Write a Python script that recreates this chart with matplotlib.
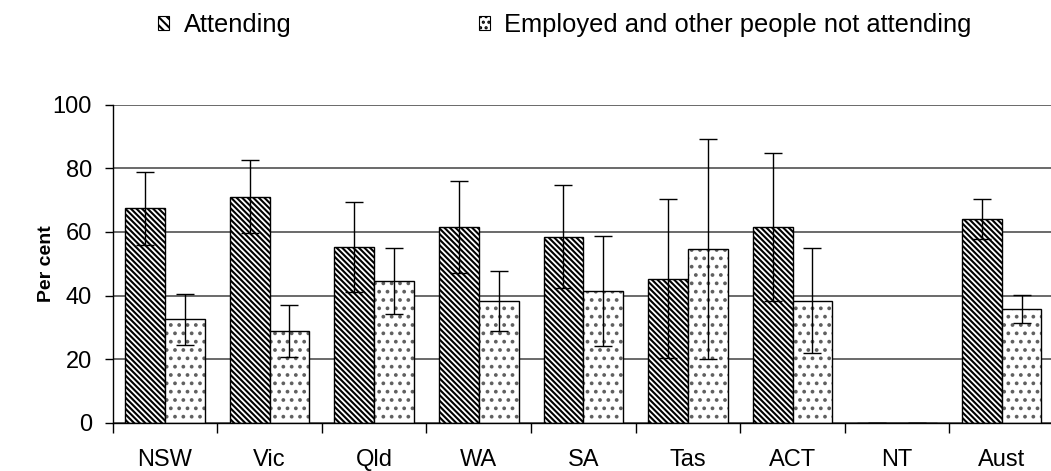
"""Attendance share by state, with error bars."""
import matplotlib.pyplot as plt
from matplotlib.patches import Patch
import numpy as np

# Data
states = ['NSW', 'Vic', 'Qld', 'WA', 'SA', 'Tas', 'ACT', 'NT', 'Aust']
attending = [67.4, 71.1, 55.3, 61.6, 58.5, 45.3, 61.6, 0, 64.2]
attending_err = [11.6, 11.4, 14.2, 14.5, 16.2, 25.0, 23.2, 0, 6.3]
not_attending = [32.6, 28.9, 44.6, 38.4, 41.5, 54.5, 38.4, 0, 35.8]
not_attending_err = [8.0, 8.2, 10.3, 9.4, 17.3, 34.6, 16.4, 0, 4.5]

plt.rcParams['font.family'] = ['Liberation Sans', 'DejaVu Sans']
plt.rcParams['hatch.linewidth'] = 1.5

STRIPES = '\\' * 6
DOTS = '..'

fig = plt.figure(figsize=(10.51, 4.71), dpi=100)
ax = fig.add_axes([0.1072, 0.1025, 0.8957, 0.675])

x = np.arange(len(states))
width = 0.38

# Grid behind bars
ax.set_axisbelow(True)
ax.yaxis.grid(True, color='#505050', linewidth=1.2)

err_style = dict(ecolor='black', elinewidth=1, capsize=6.5, capthick=1)

# Hatched bars
ax.bar(x - width / 2, attending, width, color='white', edgecolor='black',
       hatch=STRIPES, linewidth=1)
ax.errorbar(x - width / 2, attending, yerr=attending_err, fmt='none', **err_style)

# Dotted bars: grey dots first, then black outline on top
ax.bar(x + width / 2, not_attending, width, color='white', edgecolor='#606060',
       hatch=DOTS, linewidth=0)
ax.bar(x + width / 2, not_attending, width, fill=False, edgecolor='black', linewidth=1)
ax.errorbar(x + width / 2, not_attending, yerr=not_attending_err, fmt='none', **err_style)

# Axes styling
ax.set_xlim(-0.5, len(states) - 0.5)
ax.set_ylim(0, 100)
ax.set_yticks(range(0, 101, 20))
ax.set_xticks(x)
ax.set_xticklabels(states)
ax.set_xticks(np.arange(-0.5, len(states)), minor=True)
ax.tick_params(axis='x', which='major', length=0, pad=19, labelsize=17)
ax.tick_params(axis='x', which='minor', length=7, width=1, direction='out')
ax.tick_params(axis='y', length=6, width=1, direction='out', labelsize=17, pad=9)
for side in ['top', 'right']:
    ax.spines[side].set_visible(False)
ax.spines['left'].set_linewidth(1)
ax.spines['bottom'].set_linewidth(1)

ax.set_ylabel('Per cent', fontsize=14, fontweight='bold', labelpad=-1.5)

# Legend
handles = [Patch(facecolor='white', edgecolor='black', hatch='\\\\\\\\', linewidth=0.8),
           Patch(facecolor='white', edgecolor='black', hatch='...', linewidth=0.8)]
labels = ['Attending', 'Employed and other people not attending']
fig.legend(handles, labels, loc='center', bbox_to_anchor=(0.5376, 0.947), ncol=2,
           frameon=False, fontsize=18.4, handlelength=0.43, handleheight=0.43,
           handletextpad=0.55, columnspacing=7.35)

plt.savefig('out.png', dpi=100)
